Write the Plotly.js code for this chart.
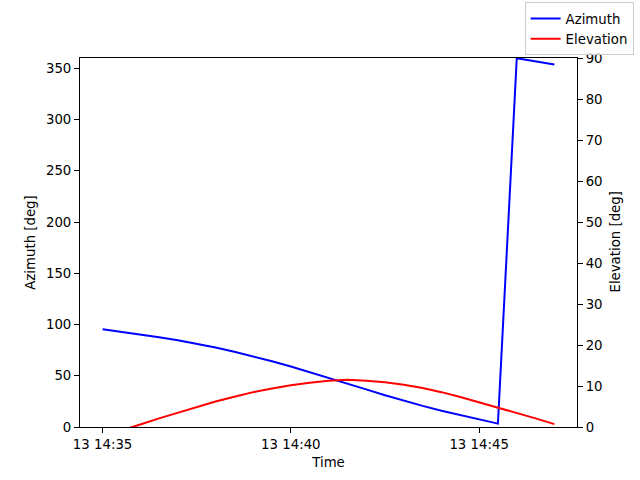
<!DOCTYPE html>
<html>
<head>
<meta charset="utf-8">
<script src="https://cdn.plot.ly/plotly-3.0.1.min.js"></script>
<style>html,body{margin:0;padding:0;background:#fff;}#chart{width:640px;height:480px;}</style>
</head>
<body>
<div id="chart"></div>
<script>
const times = [
  "2023-01-13 14:35:00","2023-01-13 14:35:30","2023-01-13 14:36:00","2023-01-13 14:36:30",
  "2023-01-13 14:37:00","2023-01-13 14:37:30","2023-01-13 14:38:00","2023-01-13 14:38:30",
  "2023-01-13 14:39:00","2023-01-13 14:39:30","2023-01-13 14:40:00","2023-01-13 14:40:30",
  "2023-01-13 14:41:00","2023-01-13 14:41:30","2023-01-13 14:42:00","2023-01-13 14:42:30",
  "2023-01-13 14:43:00","2023-01-13 14:43:30","2023-01-13 14:44:00","2023-01-13 14:44:30",
  "2023-01-13 14:45:00","2023-01-13 14:45:30","2023-01-13 14:46:00","2023-01-13 14:46:30",
  "2023-01-13 14:47:00"
];
const azimuth = [
  95.3, 92.9, 90.3, 87.6, 84.6, 81.3, 77.6, 73.5, 69.0, 64.1, 59.0, 53.6,
  48.1, 42.4, 36.7, 31.0, 25.6, 20.6, 15.9, 11.6, 7.6, 3.3, 359.8, 356.5, 353.6
];
const elevation = [
  -2.3, -0.9, 0.6, 2.1, 3.5, 4.9, 6.2, 7.4, 8.5, 9.4, 10.2, 10.8,
  11.3, 11.5, 11.3, 10.9, 10.3, 9.5, 8.5, 7.3, 6.0, 4.8, 3.5, 2.1, 0.7
];
const xRange = ["2023-01-13 14:34:24", "2023-01-13 14:47:36"];
const xTickVals = ["2023-01-13 14:35:00", "2023-01-13 14:40:00", "2023-01-13 14:45:00"];
const xTickText = ["13 14:35", "13 14:40", "13 14:45"];

const FONT = "DejaVu Sans, sans-serif";
const FS = 13.3;

const traces = [
  {x: times, y: azimuth, name: "Azimuth", type: "scatter", mode: "lines",
   line: {color: "#0000ff", width: 2}, yaxis: "y"},
  {x: times, y: elevation, name: "Elevation", type: "scatter", mode: "lines",
   line: {color: "#ff0000", width: 2}, yaxis: "y2"}
];

const axisCommon = {
  showgrid: false, zeroline: false, showline: true, linecolor: "#000", linewidth: 1,
  ticks: "outside", ticklen: 5, tickwidth: 1, tickcolor: "#000",
  tickfont: {family: FONT, size: FS, color: "#000"}, automargin: false
};

const layout = {
  width: 640, height: 480,
  margin: {l: 80, r: 63, t: 58, b: 53, pad: 0, autoexpand: false},
  paper_bgcolor: "#fff", plot_bgcolor: "#fff",
  font: {family: FONT, size: FS, color: "#000"},
  showlegend: true,
  legend: {
    xref: "container", yref: "container",
    x: 0.99, y: 0.995, xanchor: "right", yanchor: "top",
    bordercolor: "#cccccc", borderwidth: 1, bgcolor: "rgba(255,255,255,0.8)",
    font: {family: FONT, size: FS, color: "#000"},
    tracegroupgap: 0
  },
  xaxis: Object.assign({}, axisCommon, {
    type: "date", range: xRange, mirror: true,
    tickmode: "array", tickvals: xTickVals, ticktext: xTickText,
    title: {text: "Time", font: {family: FONT, size: FS, color: "#000"}, standoff: 6}
  }),
  yaxis: Object.assign({}, axisCommon, {
    range: [0, 360], dtick: 50, tick0: 0,
    title: {text: "Azimuth [deg]", font: {family: FONT, size: FS, color: "#000"}, standoff: 7}
  }),
  yaxis2: Object.assign({}, axisCommon, {
    range: [0, 90], dtick: 10, tick0: 0, overlaying: "y", side: "right"
  }),
  annotations: [{
    text: "Elevation [deg]", xref: "paper", yref: "paper",
    x: 1.0765, y: 0.5, xanchor: "center", yanchor: "middle",
    textangle: -90, showarrow: false,
    font: {family: FONT, size: FS, color: "#000"}
  }]
};

Plotly.newPlot("chart", traces, layout, {displayModeBar: false, staticPlot: true});
</script>
</body>
</html>
